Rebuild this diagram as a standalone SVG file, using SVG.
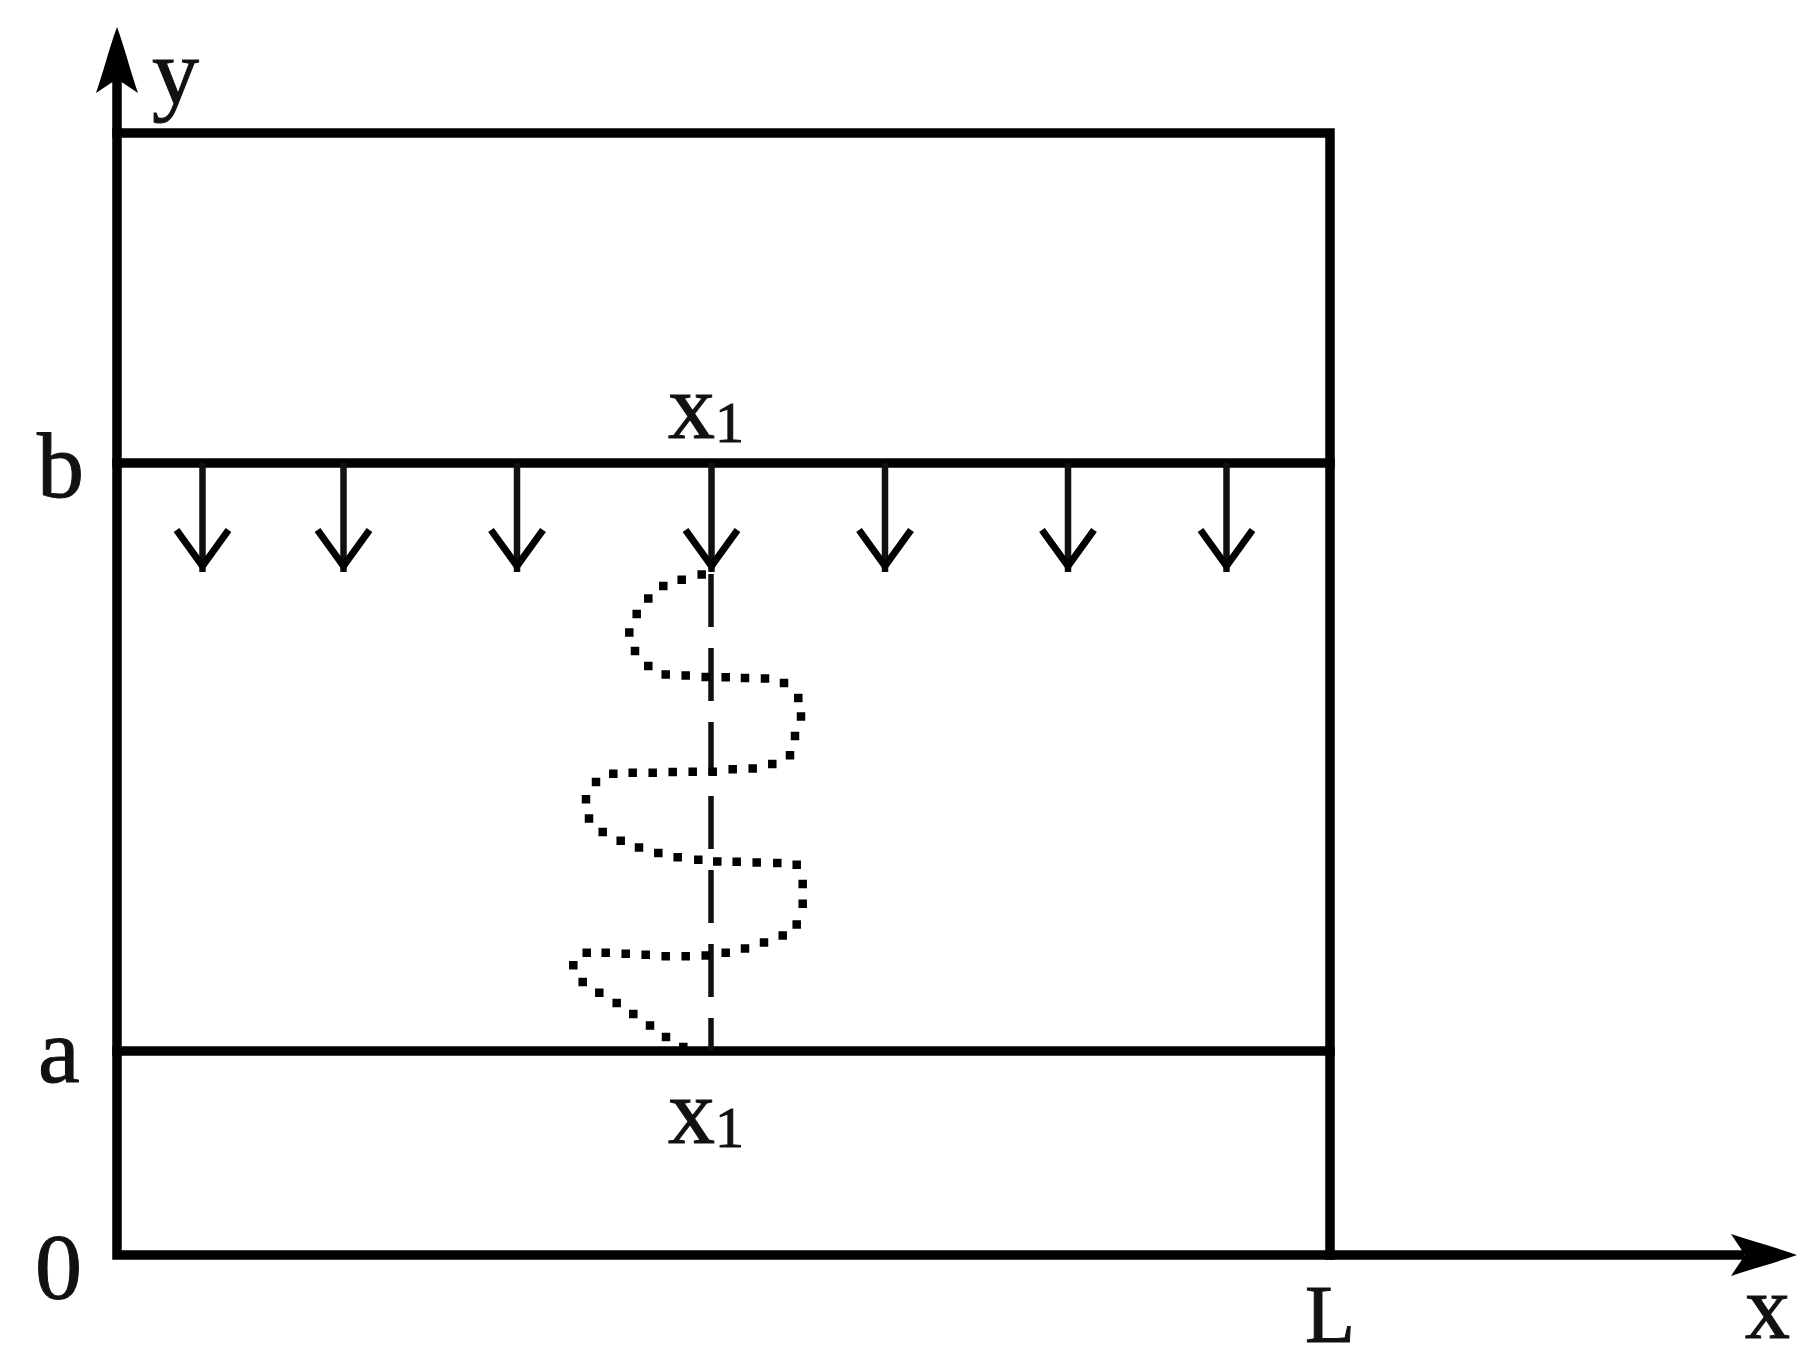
<svg xmlns="http://www.w3.org/2000/svg" width="1814" height="1358" viewBox="0 0 1814 1358">
<style>
.frame{stroke:#000;stroke-width:9.5;fill:none;stroke-linecap:square}
.flux{stroke:#111;stroke-width:6.5;fill:none;marker-end:url(#vee)}
.centre{stroke:#111;stroke-width:5.5;fill:none;stroke-dasharray:53 21}
.dots{stroke:#000;stroke-width:8.5;fill:none;stroke-linecap:square}
text{font-family:"Liberation Serif","DejaVu Serif",serif;font-size:94px;fill:#111;stroke:#111;stroke-width:1}
.sub{font-size:58px}
</style>
<defs>
<marker id="vee" markerUnits="userSpaceOnUse" orient="auto" markerWidth="70" markerHeight="70" refX="60" refY="35" viewBox="0 0 70 70" overflow="visible">
<path d="M18 9L54 35L18 61" fill="none" stroke="#000" stroke-width="7"/>
</marker>
<path id="axisHead" d="M0 0C8 22 14 46 21 66L0 52L-21 66C-14 46-8 22 0 0Z" fill="#000"/>
</defs>
<rect width="1814" height="1358" fill="#fff"/>
<g id="connectors">
<path class="frame" d="M117 80V1255H1740"/>
<path class="frame" d="M117 133H1330V1255"/>
<path class="frame" d="M117 463H1330"/>
<path class="frame" d="M117 1051H1330"/>
<use href="#axisHead" transform="translate(117 27)"/>
<use href="#axisHead" transform="translate(1797 1255) rotate(90)"/>
<path class="flux" d="M202.500 463V572"/>
<path class="flux" d="M343.500 463V572"/>
<path class="flux" d="M517 463V572"/>
<path class="flux" d="M711.500 463V572"/>
<path class="flux" d="M885 463V572"/>
<path class="flux" d="M1068 463V572"/>
<path class="flux" d="M1226.500 463V572"/>
<path class="centre" d="M711 574V1051"/>
<path class="dots" d="M701.700 574.500h0M681.700 579.700h0M663.300 585.900h0M648.300 598.600h0M636.700 614.100h0M629.300 632.400h0M635 651h0M648.300 665.900h0M665.700 674.500h0M685.700 675.500h0M705.700 676.900h0M725.700 677.200h0M745 677.900h0M765 678.600h0M784 683.100h0M798.300 697.900h0M801 716.600h0M795 735.900h0M790 755.200h0M772.300 764.100h0M752.700 768.600h0M732.700 769.300h0M712.700 771.700h0M692.700 771.700h0M672.700 772.100h0M652.700 772.800h0M632.700 772.800h0M613.300 773.800h0M596 782.100h0M586 799.300h0M589 818.600h0M602.700 832.100h0M620.700 840.700h0M639 847.600h0M658.300 853.100h0M677.700 857.200h0M698.300 859.700h0M717.300 861.400h0M736.700 861.700h0M756.700 862.400h0M777.300 863.100h0M796.700 864.800h0M802.700 884.100h0M802.700 903.800h0M796.700 924.500h0M782.700 935.500h0M764 942.400h0M745 948.600h0M725.700 952.800h0M705.700 955.500h0M685.700 956.200h0M665.700 956.200h0M645.700 954.800h0M625.700 953.800h0M605.700 952.800h0M586.700 952.800h0M573.300 965.200h0M582.700 982.100h0M599.300 992.800h0M616.700 1003.100h0M633.300 1014.100h0M650 1025.500h0M666 1036.900h0M683.300 1046.900h0"/>
</g>
<g id="labels">
<text id="label-y" x="152" y="103">y</text>
<text id="label-b" x="37" y="497">b</text>
<text id="label-a" x="38" y="1082">a</text>
<text id="label-0" x="35" y="1298">0</text>
<text id="label-L" x="1305" y="1342" style="font-size:82px">L</text>
<text id="label-x" x="1745" y="1338" style="font-size:90px">x</text>
<text id="label-x1-top" x="668" y="438">x<tspan class="sub" dy="4">1</tspan></text>
<text id="label-x1-bottom" x="668" y="1143">x<tspan class="sub" dy="4">1</tspan></text>
</g>
</svg>
